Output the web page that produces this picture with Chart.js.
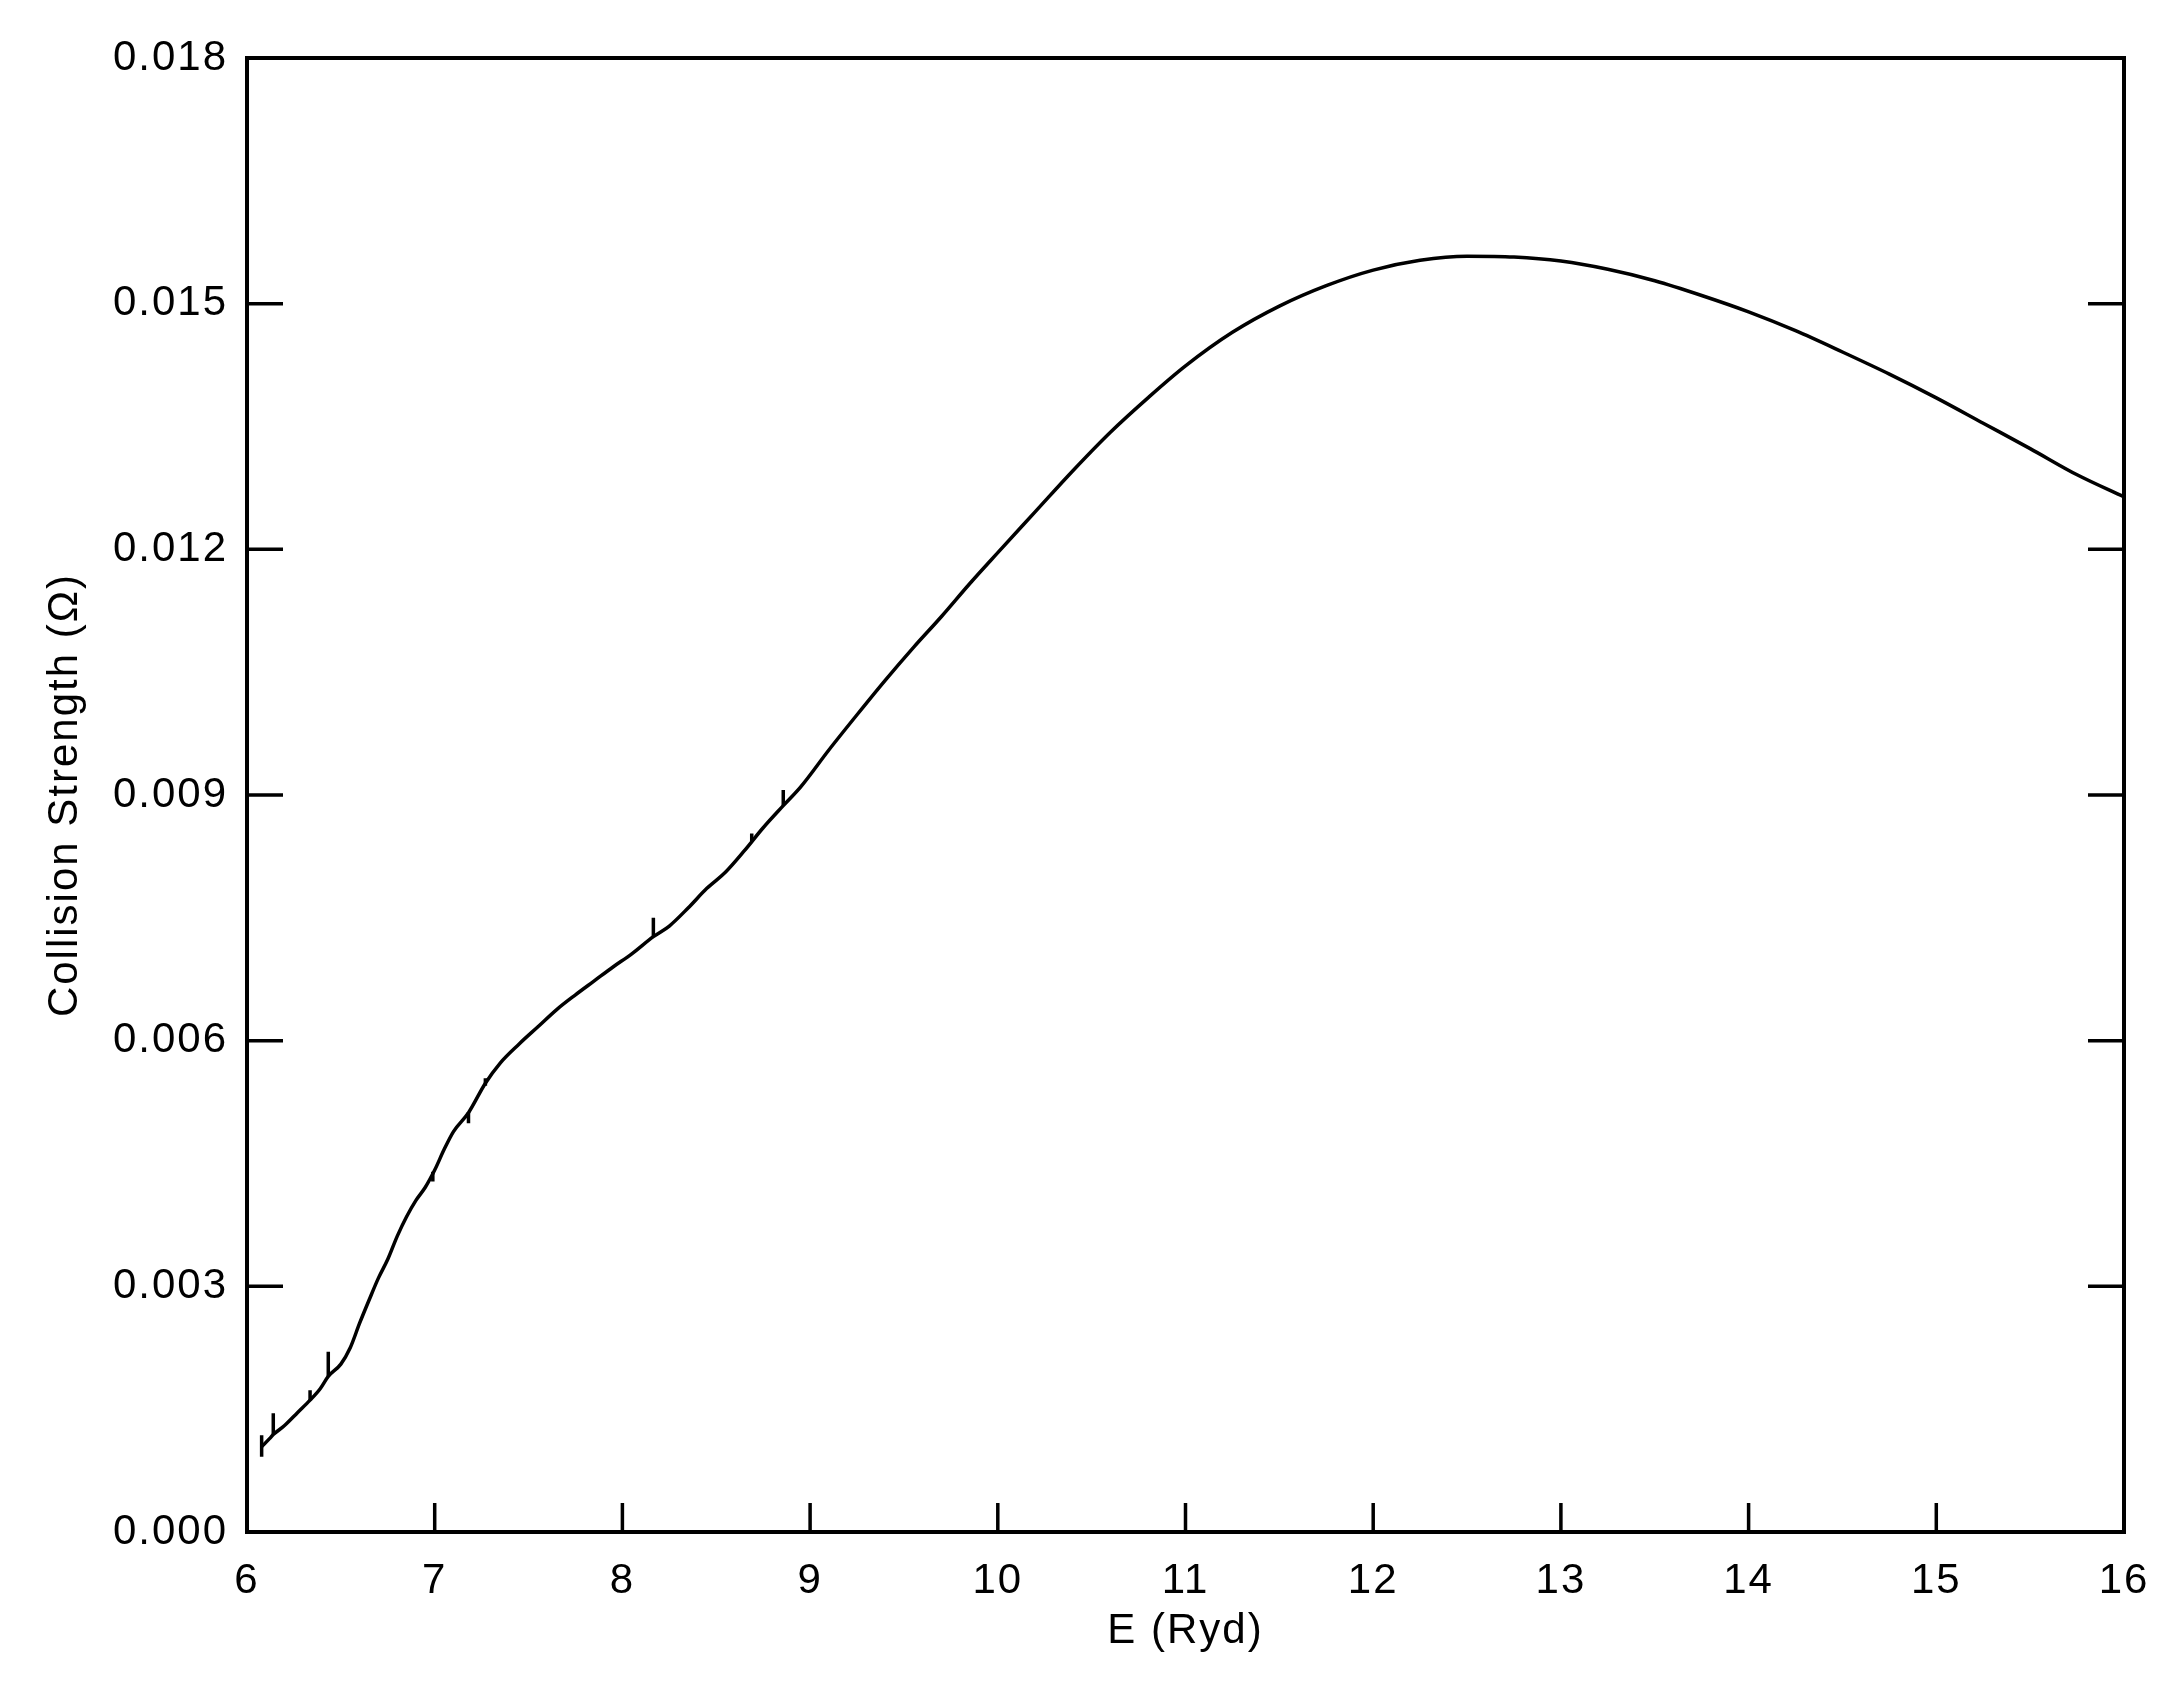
<!DOCTYPE html>
<html>
<head>
<meta charset="utf-8">
<script src="https://cdn.jsdelivr.net/npm/chart.js@4.4.1/dist/chart.umd.min.js"></script>
<style>
  html, body { margin: 0; padding: 0; background: #fff; }
  #wrap { width: 2174px; height: 1689px; }
</style>
</head>
<body>
<div id="wrap"><canvas id="omegaChart" width="2174" height="1689"></canvas></div>
<script>
// background collision strength
const energy = [
  6.078, 6.12, 6.14, 6.2, 6.27, 6.336, 6.39, 6.433, 6.5, 6.55, 6.6, 6.65,
  6.7, 6.75, 6.8, 6.85, 6.9, 6.95, 7.0, 7.05, 7.1, 7.18, 7.27, 7.35, 7.45,
  7.55, 7.65, 7.75, 7.85, 7.95, 8.05, 8.165, 8.25, 8.35, 8.45, 8.55, 8.65,
  8.75, 8.857, 8.95, 9.1, 9.25, 9.4, 9.55, 9.7, 9.85, 10.0, 10.2, 10.4,
  10.6, 10.8, 11.0, 11.25, 11.5, 11.75, 12.0, 12.25, 12.5, 12.75, 13.0,
  13.25, 13.5, 13.75, 14.0, 14.25, 14.5, 14.75, 15.0, 15.25, 15.5, 15.75, 16.0
];
const omega = [
  0.00104, 0.00114, 0.00119, 0.0013, 0.00146, 0.00161, 0.00175, 0.0019, 0.00205, 0.00225, 0.00255, 0.00283,
  0.0031, 0.00333, 0.00361, 0.00385, 0.00405, 0.00421, 0.00442, 0.00467, 0.00489, 0.00512, 0.00548, 0.00573, 0.00596,
  0.00617, 0.00638, 0.00656, 0.00673, 0.0069, 0.00706, 0.00727, 0.0074, 0.00762, 0.00786, 0.00806, 0.00832,
  0.0086, 0.00887, 0.0091, 0.00955, 0.00998, 0.0104, 0.0108, 0.01118, 0.01158, 0.01196, 0.01246, 0.01296,
  0.01343, 0.01385, 0.01424, 0.01465, 0.01497, 0.01522, 0.01541, 0.01553, 0.01558, 0.01557, 0.01552,
  0.01542, 0.01528, 0.0151, 0.0149, 0.01467, 0.01441, 0.01414, 0.01385, 0.01354, 0.01323, 0.01291, 0.01264
];
// narrow resonance spikes: energy, bottom and top of each vertical stroke
const spikeEnergy = [6.078, 6.14, 6.336, 6.433, 6.99, 7.18, 7.27, 8.165, 8.689, 8.857];
const spikeLow = [0.00092, 0.00119, 0.00161, 0.0019, 0.00428, 0.00499, 0.00545, 0.00727, 0.00843, 0.00887];
const spikeHigh = [0.00118, 0.00145, 0.00173, 0.0022, 0.0044, 0.00513, 0.00554, 0.0075, 0.00853, 0.00906];
const xTicks = [6, 7, 8, 9, 10, 11, 12, 13, 14, 15, 16];
const yTicks = [0, 0.003, 0.006, 0.009, 0.012, 0.015, 0.018];

const fontFamily = "'Liberation Sans', Arial, sans-serif";

const spikePoints = [];
spikeEnergy.forEach((e, i) => {
  spikePoints.push({ x: e, y: spikeLow[i] }, { x: e, y: spikeHigh[i] }, { x: e, y: null });
});

// IDL-style frame: box around the plot, ticks pointing inwards (no top ticks)
const framePlugin = {
  id: 'frame',
  beforeDraw(chart) {
    chart.ctx.letterSpacing = '2px';
  },
  afterDraw(chart) {
    const { ctx, chartArea: a, scales } = chart;
    ctx.save();
    ctx.strokeStyle = '#000';
    ctx.lineWidth = 4;
    ctx.strokeRect(a.left, a.top, a.right - a.left, a.bottom - a.top);
    ctx.lineWidth = 3.5;
    ctx.beginPath();
    xTicks.forEach(v => {
      const px = scales.x.getPixelForValue(v);
      ctx.moveTo(px, a.bottom);
      ctx.lineTo(px, a.bottom - 29);
    });
    yTicks.forEach(v => {
      const py = scales.y.getPixelForValue(v);
      ctx.moveTo(a.left, py);
      ctx.lineTo(a.left + 36, py);
      ctx.moveTo(a.right, py);
      ctx.lineTo(a.right - 36, py);
    });
    ctx.stroke();
    ctx.restore();
  }
};

const ctx = document.getElementById('omegaChart').getContext('2d');

new Chart(ctx, {
  type: 'line',
  data: {
    datasets: [{
      data: energy.map((e, i) => ({ x: e, y: omega[i] })),
      borderColor: '#000',
      borderWidth: 3.5,
      pointRadius: 0,
      cubicInterpolationMode: 'monotone',
      fill: false
    }, {
      data: spikePoints,
      borderColor: '#000',
      borderWidth: 3.5,
      pointRadius: 0,
      tension: 0,
      spanGaps: false,
      fill: false
    }]
  },
  options: {
    responsive: false,
    animation: false,
    layout: { padding: { top: 58, right: 50, left: 0, bottom: 0 } },
    plugins: { legend: { display: false }, tooltip: { enabled: false } },
    scales: {
      x: {
        type: 'linear',
        min: 6,
        max: 16,
        afterFit: s => { s.height = 157; },
        afterBuildTicks: s => { s.ticks = xTicks.map(v => ({ value: v })); },
        grid: { display: false, drawTicks: false },
        border: { display: false },
        ticks: {
          color: '#000',
          padding: 24,
          maxRotation: 0,
          font: { family: fontFamily, size: 42 },
          callback: v => String(v)
        },
        title: {
          display: true,
          text: 'E (Ryd)',
          color: '#000',
          font: { family: fontFamily, size: 42 },
          padding: { top: 0, bottom: 32 }
        }
      },
      y: {
        type: 'linear',
        min: 0,
        max: 0.018,
        afterFit: s => { s.width = 247; },
        afterBuildTicks: s => { s.ticks = yTicks.map(v => ({ value: v })); },
        grid: { display: false, drawTicks: false },
        border: { display: false },
        ticks: {
          color: '#000',
          padding: 19,
          font: { family: fontFamily, size: 42 },
          callback: v => v.toFixed(3)
        },
        title: {
          display: true,
          text: 'Collision Strength (Ω)',
          color: '#000',
          font: { family: fontFamily, size: 42 },
          padding: { top: 40, bottom: 0 }
        }
      }
    }
  },
  plugins: [framePlugin]
});
</script>
</body>
</html>
